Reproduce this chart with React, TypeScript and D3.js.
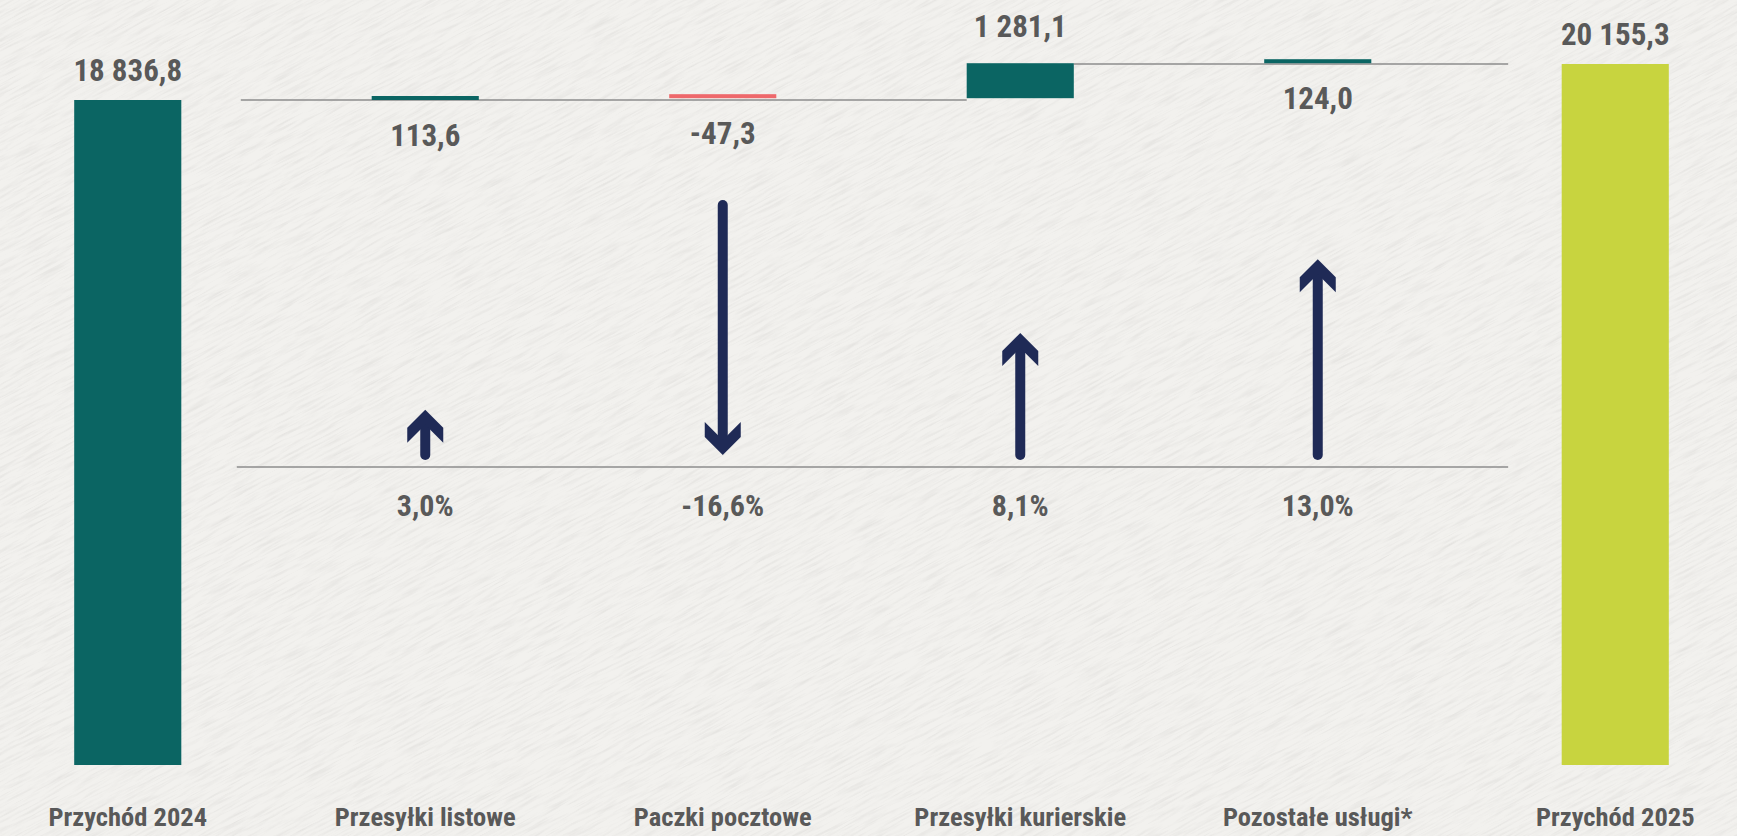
import React, { useEffect, useRef } from "react";
import * as d3 from "d3";

const W = 1737;
const H = 836;

// data
const categories = [
  "Przychód 2024",
  "Przesyłki listowe",
  "Paczki pocztowe",
  "Przesyłki kurierskie",
  "Pozostałe usługi*",
  "Przychód 2025",
];
const totalStart = 18836.8;
const totalEnd = 20155.3;
const deltaCategories = categories.slice(1, 5);
const deltaValues = [113.6, -47.3, 1281.1, 124.0];
const pctChanges = [3.0, -16.6, 8.1, 13.0];

const colors = {
  teal: "#0b6563",
  lime: "#c8d43f",
  red: "#ee686b",
  navy: "#1f2a56",
  text: "#595959",
  rule: "#8c8c8c",
  paper: "#f2f1ee",
};

const FONT =
  "'Roboto Condensed', 'Liberation Sans Narrow', 'DejaVu Sans Condensed', Roboto, sans-serif";

const pl = d3.formatLocale({
  decimal: ",",
  thousands: " ",
  grouping: [3],
  currency: ["", " zł"],
  minus: "-",
});
const fmtVal = pl.format(",.1f");
const fmtPct = (v: number) => pl.format(".1f")(v) + "%";

export default function App() {
  const ref = useRef<SVGSVGElement>(null);

  useEffect(() => {
    document.body.style.margin = "0";
    const svg = d3.select(ref.current);
    svg.selectAll("*").remove();

    // paper-ish background
    const defs = svg.append("defs");
    const f = defs
      .append("filter")
      .attr("id", "paper")
      .attr("x", 0)
      .attr("y", 0)
      .attr("width", "100%")
      .attr("height", "100%");
    f.append("feTurbulence")
      .attr("type", "fractalNoise")
      .attr("baseFrequency", "0.03 0.45")
      .attr("numOctaves", 4)
      .attr("seed", 7);
    f.append("feColorMatrix")
      .attr("type", "matrix")
      .attr(
        "values",
        "0 0 0 0 0.6  0 0 0 0 0.59  0 0 0 0 0.57  1.4 0 0 0 -0.62"
      );

    svg.append("rect").attr("width", W).attr("height", H).attr("fill", colors.paper);
    svg
      .append("g")
      .attr("transform", `rotate(-28 ${W / 2} ${H / 2})`)
      .append("rect")
      .attr("x", -600)
      .attr("y", -900)
      .attr("width", W + 1200)
      .attr("height", H + 1800)
      .attr("filter", "url(#paper)")
      .attr("opacity", 0.55);

    // scales
    const x = d3
      .scaleBand()
      .domain(categories)
      .range([-21, 1764])
      .paddingInner(0.64)
      .paddingOuter(0.32);
    const cx = (c: string) => (x(c) as number) + x.bandwidth() / 2;

    // the original chart does not start its value axis at zero
    const yFloor = -5520;
    const y = d3.scaleLinear().domain([yFloor, totalEnd]).range([765, 64]);

    const arrowLen = d3.scaleLinear().domain([0, 16.6]).range([0, 250]);

    const lineStart = cx(categories[1]) - x.step() * 0.62;
    const lineEnd = cx(categories[4]) + x.step() * 0.64;

    const textStyle = (sel: any, size: number) =>
      sel
        .attr("text-anchor", "middle")
        .attr("font-family", FONT)
        .attr("font-stretch", "condensed")
        .attr("font-weight", 700)
        .attr("font-size", size)
        .attr("fill", colors.text);

    // connector rules
    const bigIdx = d3.maxIndex(deltaValues, (d) => Math.abs(d));
    const rules = svg.append("g").attr("stroke", colors.rule).attr("stroke-width", 1.6);
    rules
      .append("line")
      .attr("x1", lineStart)
      .attr("x2", x(deltaCategories[bigIdx]) as number)
      .attr("y1", y(totalStart))
      .attr("y2", y(totalStart));
    rules
      .append("line")
      .attr("x1", (x(deltaCategories[bigIdx]) as number) + x.bandwidth())
      .attr("x2", lineEnd)
      .attr("y1", y(totalEnd))
      .attr("y2", y(totalEnd));
    rules
      .append("line")
      .attr("x1", lineStart - 4)
      .attr("x2", lineEnd)
      .attr("y1", 467)
      .attr("y2", 467);

    // total bars
    const totals = [
      { cat: categories[0], value: totalStart, color: colors.teal },
      { cat: categories[5], value: totalEnd, color: colors.lime },
    ];
    svg
      .append("g")
      .selectAll("rect")
      .data(totals)
      .join("rect")
      .attr("x", (d) => x(d.cat) as number)
      .attr("width", x.bandwidth())
      .attr("y", (d) => y(d.value))
      .attr("height", (d) => y(yFloor) - y(d.value))
      .attr("fill", (d) => d.color);
    svg
      .append("g")
      .selectAll("text")
      .data(totals)
      .join("text")
      .call(textStyle, 31)
      .attr("x", (d) => cx(d.cat))
      .attr("y", (d) => y(d.value) - 19)
      .text((d) => fmtVal(d.value));

    // delta bars (waterfall)
    let running = totalStart;
    const deltas = deltaValues.map((v, i) => {
      const y0 = y(running);
      const y1 = y(running + v);
      running += v;
      const bottom = Math.max(y0, y1);
      const h = Math.max(Math.abs(y0 - y1), 4);
      return { cat: deltaCategories[i], value: v, top: bottom - h, bottom, h };
    });
    svg
      .append("g")
      .selectAll("rect")
      .data(deltas)
      .join("rect")
      .attr("x", (d) => x(d.cat) as number)
      .attr("width", x.bandwidth())
      .attr("y", (d) => d.top)
      .attr("height", (d) => d.h)
      .attr("fill", (d) => (d.value < 0 ? colors.red : colors.teal));
    svg
      .append("g")
      .selectAll("text")
      .data(deltas)
      .join("text")
      .call(textStyle, 31)
      .attr("x", (d) => cx(d.cat))
      .attr("y", (d) => (d.h > 20 ? d.top - 26 : d.bottom + 46))
      .text((d) => fmtVal(d.value));

    // percent change arrows
    const base = 455;
    const arrows = svg
      .append("g")
      .selectAll("g")
      .data(pctChanges.map((v, i) => ({ v, cat: deltaCategories[i] })))
      .join("g")
      .attr("transform", (d) => {
        const len = arrowLen(Math.abs(d.v));
        return d.v >= 0
          ? `translate(${cx(d.cat)},${base - len})`
          : `translate(${cx(d.cat)},${base}) scale(1,-1)`;
      });
    arrows
      .append("line")
      .attr("x1", 0)
      .attr("x2", 0)
      .attr("y1", 12)
      .attr("y2", (d) => arrowLen(Math.abs(d.v)))
      .attr("stroke", colors.navy)
      .attr("stroke-width", 10)
      .attr("stroke-linecap", "round");
    arrows
      .append("path")
      .attr("d", "M0,0 L18,18 L18,33 L0,15 L-18,33 L-18,18 Z")
      .attr("fill", colors.navy);

    svg
      .append("g")
      .selectAll("text")
      .data(pctChanges.map((v, i) => ({ v, cat: deltaCategories[i] })))
      .join("text")
      .call(textStyle, 30)
      .attr("x", (d) => cx(d.cat))
      .attr("y", 516)
      .text((d) => fmtPct(d.v));

    // category axis labels
    svg
      .append("g")
      .selectAll("text")
      .data(categories)
      .join("text")
      .call(textStyle, 26.5)
      .attr("x", (d) => cx(d))
      .attr("y", 826)
      .text((d) => d);
  }, []);

  return <svg ref={ref} width={W} height={H} style={{ display: "block" }} />;
}
